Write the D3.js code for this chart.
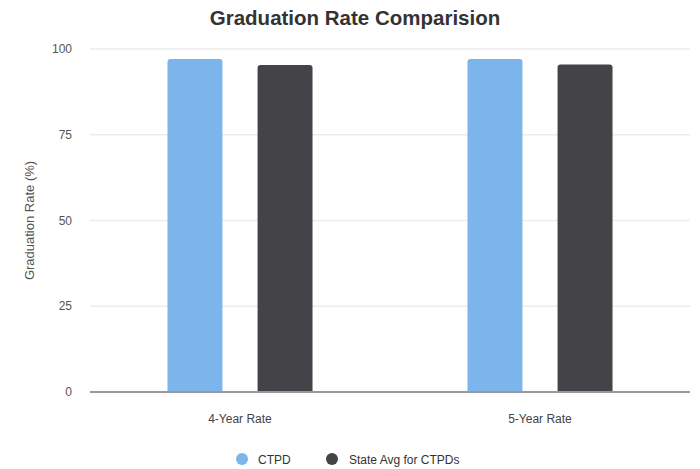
<!DOCTYPE html>
<html>
<head>
<meta charset="utf-8">
<script src="https://cdn.jsdelivr.net/npm/d3@7"></script>
<style>
  body { margin: 0; background: #fff; }
  text { font-family: "Liberation Sans", Arial, sans-serif; }
</style>
</head>
<body>
<div id="chart"></div>
<script>
// chart data
var categories = ['4-Year Rate', '5-Year Rate'];
var seriesNames = ['CTPD', 'State Avg for CTPDs'];
var ctpdValues = [97.1, 97.1];
var stateValues = [95.3, 95.5];
var yTicks = [0, 25, 50, 75, 100];

var colors = ['#7cb5ec', '#434348'];

var width = 700, height = 469;
var margin = { top: 49, right: 10, bottom: 77, left: 90 };

var svg = d3.select('#chart')
  .append('svg')
  .attr('width', width)
  .attr('height', height);

var rows = categories.map(function(c, i) {
  return { cat: c, values: [ctpdValues[i], stateValues[i]] };
});

var x0 = d3.scaleBand()
  .domain(categories)
  .range([margin.left, width - margin.right])
  .padding(0);

var x1 = d3.scaleBand()
  .domain(seriesNames)
  .range([0, x0.bandwidth()])
  .paddingInner(0.39)
  .paddingOuter(0.86);

var y = d3.scaleLinear()
  .domain([0, 100])
  .range([height - margin.bottom, margin.top]);

// gridlines
svg.append('g')
  .selectAll('line')
  .data(yTicks.slice(1))
  .enter()
  .append('line')
  .attr('x1', margin.left)
  .attr('x2', width - margin.right)
  .attr('y1', function(d) { return y(d); })
  .attr('y2', function(d) { return y(d); })
  .attr('stroke', '#ececec')
  .attr('stroke-width', 1.5);

// y tick labels
svg.append('g')
  .selectAll('text')
  .data(yTicks)
  .enter()
  .append('text')
  .attr('x', 72)
  .attr('y', function(d) { return y(d) + 4; })
  .attr('text-anchor', 'end')
  .attr('font-size', 12)
  .attr('fill', '#555')
  .text(function(d) { return d; });

// bars
var groups = svg.append('g')
  .selectAll('g')
  .data(rows)
  .enter()
  .append('g')
  .attr('transform', function(d) { return 'translate(' + x0(d.cat) + ',0)'; });

groups.selectAll('path')
  .data(function(d) { return d.values.map(function(v, i) { return { name: seriesNames[i], value: v, i: i }; }); })
  .enter()
  .append('path')
  .attr('fill', function(d) { return colors[d.i]; })
  .attr('d', function(d) {
    var bx = x1(d.name), bw = x1.bandwidth();
    var top = y(d.value), bottom = y(0), r = 3;
    return 'M' + bx + ',' + bottom +
      'V' + (top + r) +
      'Q' + bx + ',' + top + ' ' + (bx + r) + ',' + top +
      'H' + (bx + bw - r) +
      'Q' + (bx + bw) + ',' + top + ' ' + (bx + bw) + ',' + (top + r) +
      'V' + bottom + 'Z';
  });

// baseline
svg.append('line')
  .attr('x1', margin.left)
  .attr('x2', width - margin.right)
  .attr('y1', y(0))
  .attr('y2', y(0))
  .attr('stroke', '#999')
  .attr('stroke-width', 2);

// x labels
svg.append('g')
  .selectAll('text')
  .data(categories)
  .enter()
  .append('text')
  .attr('x', function(d) { return x0(d) + x0.bandwidth() / 2; })
  .attr('y', 423)
  .attr('text-anchor', 'middle')
  .attr('font-size', 12)
  .attr('fill', '#444')
  .text(function(d) { return d; });

// title
svg.append('text')
  .attr('x', 355)
  .attr('y', 25)
  .attr('text-anchor', 'middle')
  .attr('font-size', 20.5)
  .attr('font-weight', 'bold')
  .attr('fill', '#333')
  .text('Graduation Rate Comparision');

// y axis title
svg.append('text')
  .attr('transform', 'translate(34,' + ((y(0) + y(100)) / 2) + ') rotate(-90)')
  .attr('text-anchor', 'middle')
  .attr('font-size', 13)
  .attr('fill', '#555')
  .text('Graduation Rate (%)');

// legend
var legendX = [242, 332];
var legend = svg.append('g')
  .selectAll('g')
  .data(seriesNames)
  .enter()
  .append('g')
  .attr('transform', function(d, i) { return 'translate(' + legendX[i] + ',459)'; });

legend.append('circle')
  .attr('r', 6)
  .attr('fill', function(d, i) { return colors[i]; });

legend.append('text')
  .attr('x', function(d, i) { return i === 0 ? 16 : 17; })
  .attr('y', 4.5)
  .attr('font-size', 12)
  .attr('fill', '#333')
  .text(function(d) { return d; });
</script>
</body>
</html>
